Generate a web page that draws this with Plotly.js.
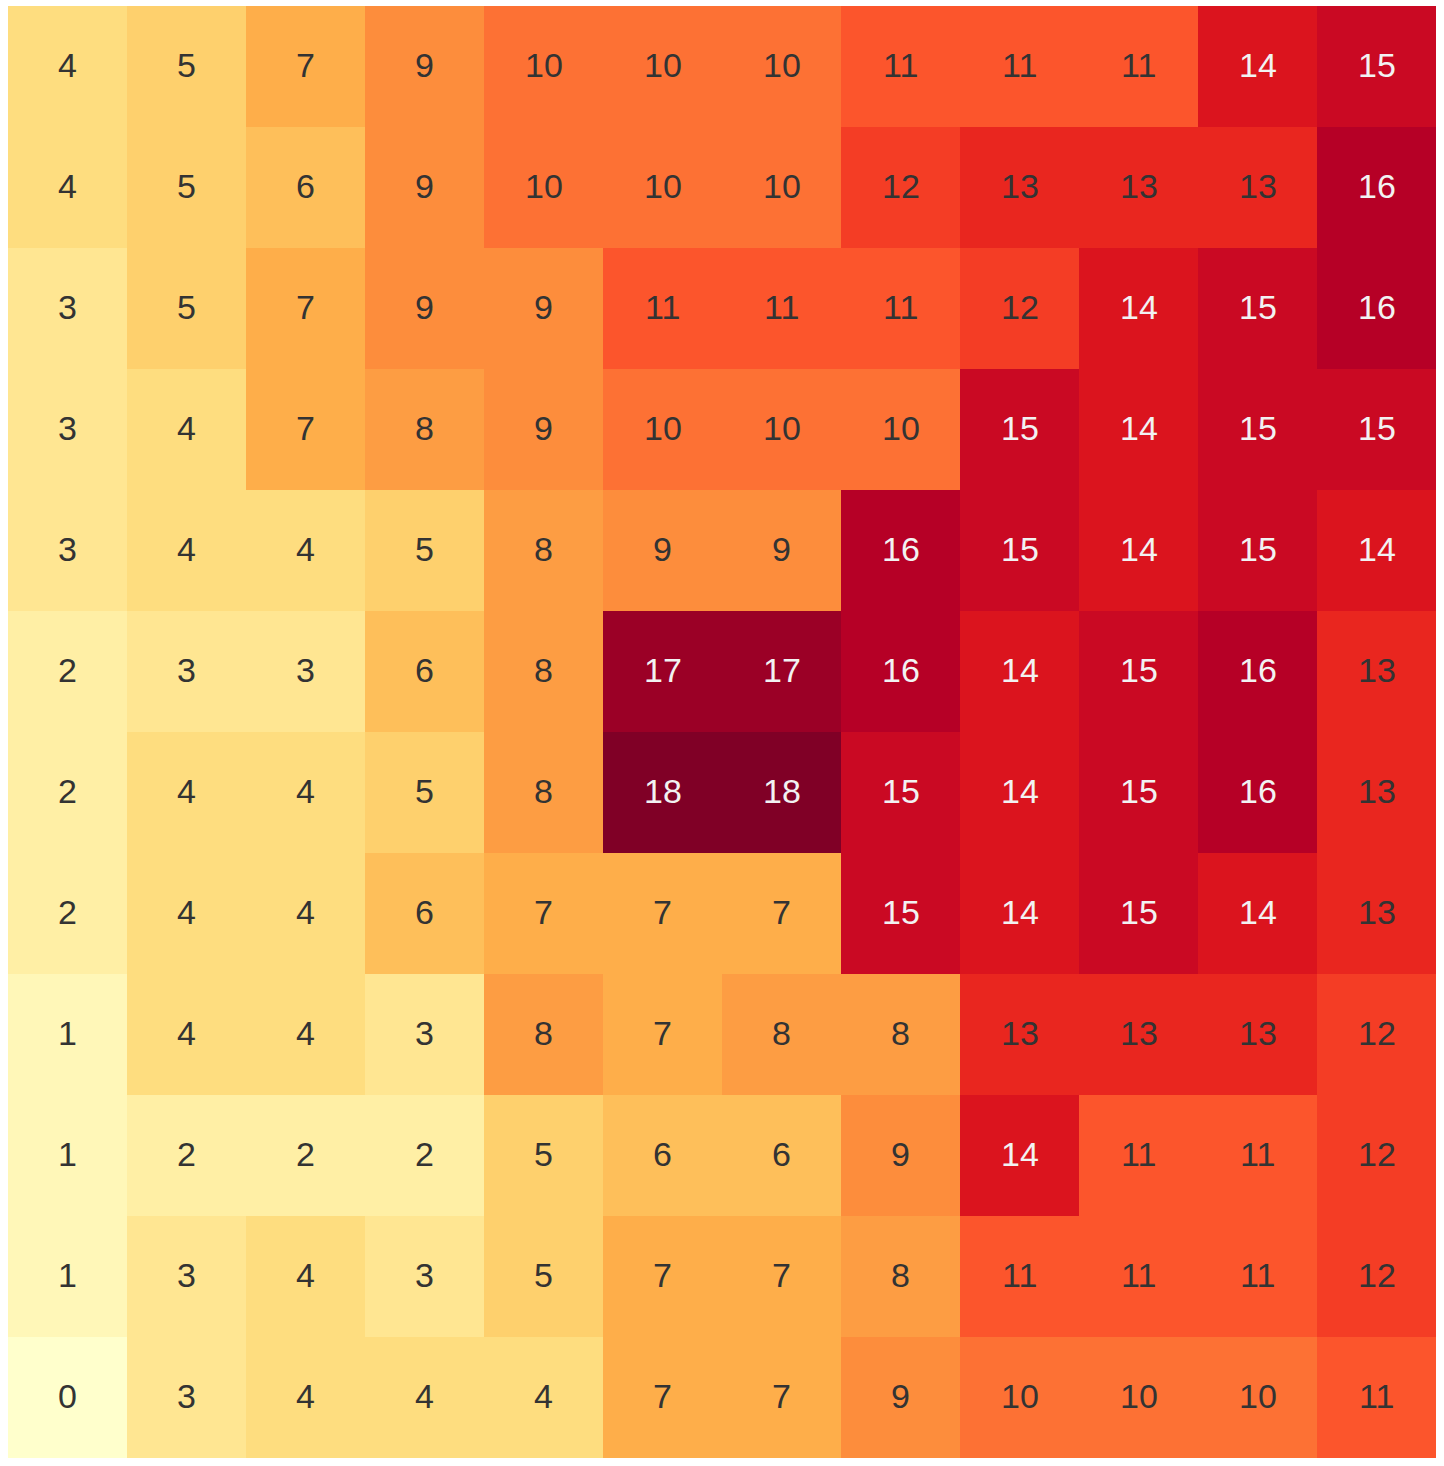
<!DOCTYPE html>
<html><head><meta charset="utf-8">
<script src="https://cdn.plot.ly/plotly-3.0.1.min.js"></script>
<style>body{margin:0;background:#fff}#chart{width:1444px;height:1466px}</style>
</head><body><div id="chart"></div>
<script>
const cols = ['c0','c1','c2','c3','c4','c5','c6','c7','c8','c9','c10','c11'];
const rows = ['r0','r1','r2','r3','r4','r5','r6','r7','r8','r9','r10','r11'];
const values = [
  [4,5,7,9,10,10,10,11,11,11,14,15],
  [4,5,6,9,10,10,10,12,13,13,13,16],
  [3,5,7,9,9,11,11,11,12,14,15,16],
  [3,4,7,8,9,10,10,10,15,14,15,15],
  [3,4,4,5,8,9,9,16,15,14,15,14],
  [2,3,3,6,8,17,17,16,14,15,16,13],
  [2,4,4,5,8,18,18,15,14,15,16,13],
  [2,4,4,6,7,7,7,15,14,15,14,13],
  [1,4,4,3,8,7,8,8,13,13,13,12],
  [1,2,2,2,5,6,6,9,14,11,11,12],
  [1,3,4,3,5,7,7,8,11,11,11,12],
  [0,3,4,4,4,7,7,9,10,10,10,11]
];
const annotations = [];
rows.forEach((r,i)=>cols.forEach((c,j)=>{
  const v = values[i][j];
  annotations.push({x:c,y:r,text:String(v),showarrow:false,yshift:2,
    font:{family:'Liberation Sans, Arial, sans-serif',size:34,color:v>=14?'#f2f2f2':'#333333'}});
}));
Plotly.newPlot('chart',[{
  type:'heatmap',x:cols,y:rows,z:values,colorscale:'YlOrRd',reversescale:true,
  zmin:0,zmax:18,showscale:false,xgap:0,ygap:0
}],{
  width:1444,height:1466,margin:{l:8,r:8,t:6,b:8},
  paper_bgcolor:'#fff',plot_bgcolor:'#fff',
  xaxis:{showticklabels:false,showgrid:false,zeroline:false,ticks:''},
  yaxis:{autorange:'reversed',showticklabels:false,showgrid:false,zeroline:false,ticks:''},
  annotations:annotations
},{displayModeBar:false});
</script></body></html>
